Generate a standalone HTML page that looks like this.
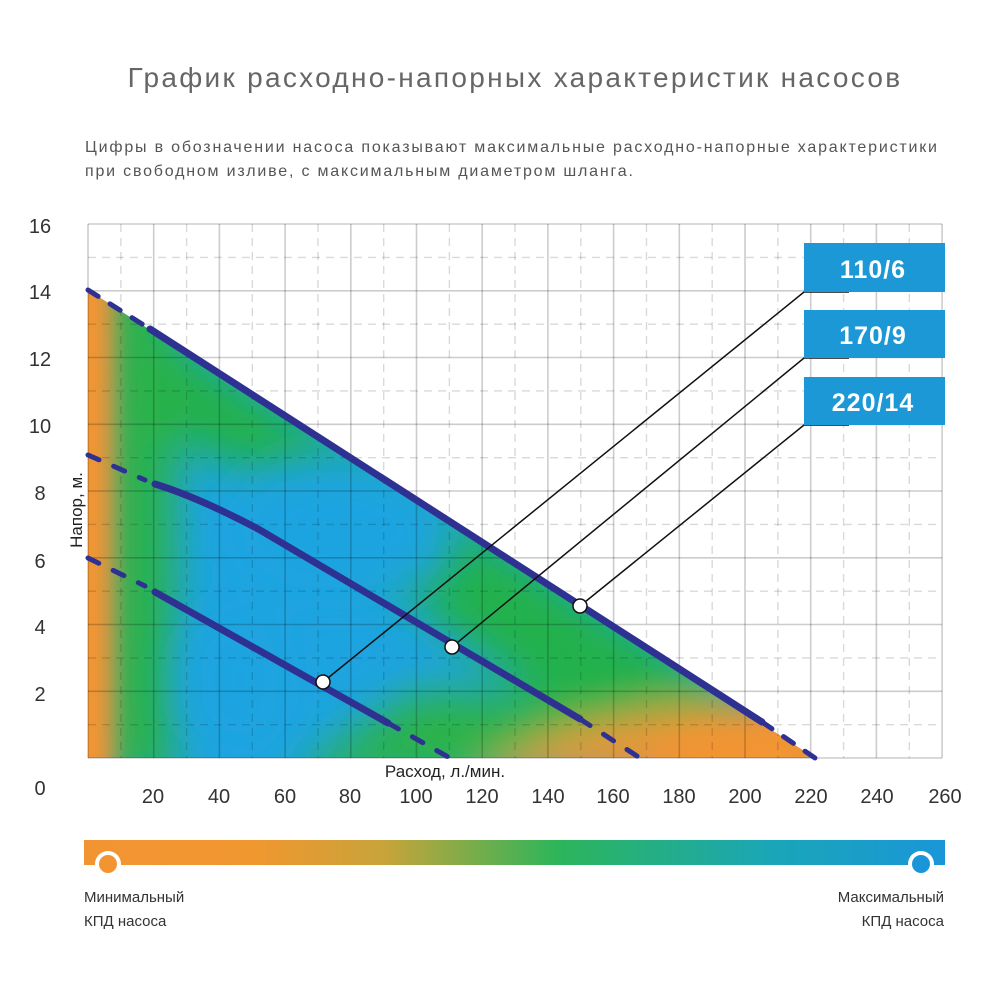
<!DOCTYPE html>
<html><head><meta charset="utf-8"><style>
html,body{margin:0;padding:0;background:#fff;}
svg{display:block;font-family:"Liberation Sans",sans-serif;}
</style></head><body>
<svg width="1000" height="1000" viewBox="0 0 1000 1000" xmlns="http://www.w3.org/2000/svg">
<defs>
<clipPath id="tri"><polygon points="88,290 88,758 815,758"/></clipPath>
<filter id="bl" x="-50%" y="-50%" width="200%" height="200%"><feGaussianBlur stdDeviation="22"/></filter>
<filter id="bl2" x="-50%" y="-50%" width="200%" height="200%"><feGaussianBlur stdDeviation="12"/></filter>
<linearGradient id="bar" x1="0" x2="1" y1="0" y2="0">
<stop offset="0" stop-color="#f39433"/><stop offset="0.2" stop-color="#f0972f"/>
<stop offset="0.35" stop-color="#c7a43a"/><stop offset="0.55" stop-color="#2db55a"/>
<stop offset="0.8" stop-color="#1aa6b8"/><stop offset="1" stop-color="#1a96d8"/>
</linearGradient>
</defs>
<text x="515" y="87" text-anchor="middle" font-size="28" fill="#666" letter-spacing="2.3">График расходно-напорных характеристик насосов</text>
<text x="85" y="152" font-size="16" fill="#555" letter-spacing="1.8">Цифры в обозначении насоса показывают максимальные расходно-напорные характеристики</text>
<text x="85" y="176" font-size="16" fill="#555" letter-spacing="1.8">при свободном изливе, с максимальным диаметром шланга.</text>

<g clip-path="url(#tri)">
<rect x="80" y="280" width="760" height="490" fill="#1ea4e0"/>
<g filter="url(#bl)">
<polygon points="88,285 830,752 830,770 640,770 420,610 280,490 160,430 110,400" fill="#22b14c"/>
<polygon points="280,780 620,780 600,700 420,690" fill="#2bb24a"/>
<rect x="100" y="280" width="75" height="500" fill="#2bb24a"/>
<polygon points="470,780 840,780 800,700 650,715 560,735" fill="#f39433"/>
</g>
<g filter="url(#bl2)">
<rect x="60" y="270" width="55" height="510" fill="#f39433"/>
<polygon points="600,780 840,780 790,725 680,740" fill="#f39433"/>
</g>
<g filter="url(#bl)" fill="#1ea4e0">
<ellipse cx="340" cy="530" rx="120" ry="80"/>
<ellipse cx="240" cy="680" rx="60" ry="80"/>
</g>
</g>

<g stroke="rgba(0,0,0,0.2)" stroke-width="1.6" fill="none">
<path d="M88,224V758M153.7,224V758M219.4,224V758M285.1,224V758M350.8,224V758M416.5,224V758M482.2,224V758M547.9,224V758M613.6,224V758M679.3,224V758M745,224V758M810.7,224V758M876.4,224V758M942.1,224V758"/>
<path d="M88,224H942M88,290.8H942M88,357.5H942M88,424.3H942M88,491H942M88,557.8H942M88,624.5H942M88,691.3H942M88,758H942"/>
</g>
<g stroke="rgba(0,0,0,0.15)" stroke-width="1.4" stroke-dasharray="8,6" fill="none">
<path d="M120.9,224V758M186.6,224V758M252.3,224V758M318,224V758M383.7,224V758M449.4,224V758M515,224V758M580.8,224V758M646.5,224V758M712.2,224V758M777.9,224V758M843.6,224V758M909.3,224V758"/>
<path d="M88,257.4H942M88,324.2H942M88,390.9H942M88,457.7H942M88,524.4H942M88,591.2H942M88,657.9H942M88,724.7H942"/>
</g>

<g stroke="#2e3192" fill="none" stroke-linecap="round">
<path d="M88,290L150,329" stroke-width="5" stroke-dasharray="12,14"/>
<path d="M150,329L762,722" stroke-width="7"/>
<path d="M762,722L815,758" stroke-width="5" stroke-dasharray="12,14"/>
<path d="M88,455L145,480" stroke-width="5" stroke-dasharray="12,16"/>
<path d="M155,484Q200,498 260,530L580,719" stroke-width="7"/>
<path d="M580,719L640,758" stroke-width="5" stroke-dasharray="12,16"/>
<path d="M88,558L145,586" stroke-width="5" stroke-dasharray="12,16"/>
<path d="M155,592L388,723" stroke-width="7"/>
<path d="M388,723L450,758" stroke-width="5" stroke-dasharray="12,16"/>
</g>

<g stroke="#111" stroke-width="1.5" fill="none">
<path d="M323,682L804,292H849M452,647L804,358H849M580,606L804,425H849"/>
</g>
<g fill="#fff" stroke="#111" stroke-width="1.5">
<circle cx="323" cy="682" r="7"/><circle cx="452" cy="647" r="7"/><circle cx="580" cy="606" r="7"/>
</g>
<g fill="#1b98d5">
<rect x="804" y="243" width="141" height="49"/>
<rect x="804" y="310" width="141" height="48"/>
<rect x="804" y="377" width="141" height="48"/>
</g>
<g fill="#fff" font-size="25" font-weight="bold" text-anchor="middle" letter-spacing="1">
<text x="873" y="278">110/6</text><text x="873" y="344">170/9</text><text x="873" y="411">220/14</text>
</g>

<g font-size="20" fill="#333" text-anchor="middle">
<text x="40" y="233">16</text><text x="40" y="299">14</text><text x="40" y="366">12</text><text x="40" y="433">10</text>
<text x="40" y="500">8</text><text x="40" y="568">6</text><text x="40" y="634">4</text><text x="40" y="701">2</text><text x="40" y="795">0</text>
<text x="153" y="803">20</text><text x="219" y="803">40</text><text x="285" y="803">60</text><text x="350" y="803">80</text>
<text x="416" y="803">100</text><text x="482" y="803">120</text><text x="548" y="803">140</text><text x="613" y="803">160</text>
<text x="679" y="803">180</text><text x="745" y="803">200</text><text x="811" y="803">220</text><text x="877" y="803">240</text><text x="945" y="803">260</text>
</g>
<text x="445" y="777" font-size="17" fill="#222" text-anchor="middle">Расход, л./мин.</text>
<text transform="translate(82,510) rotate(-90)" font-size="17" fill="#222" text-anchor="middle">Напор, м.</text>

<rect x="84" y="840" width="861" height="25" fill="url(#bar)"/>
<circle cx="108" cy="864" r="13" fill="#fff"/><circle cx="108" cy="864" r="9" fill="#f39433"/>
<circle cx="921" cy="864" r="13" fill="#fff"/><circle cx="921" cy="864" r="9" fill="#1a96d8"/>
<g font-size="15" fill="#333">
<text x="84" y="902">Минимальный</text><text x="84" y="926">КПД насоса</text>
<text x="944" y="902" text-anchor="end">Максимальный</text><text x="944" y="926" text-anchor="end">КПД насоса</text>
</g>
</svg>
</body></html>
